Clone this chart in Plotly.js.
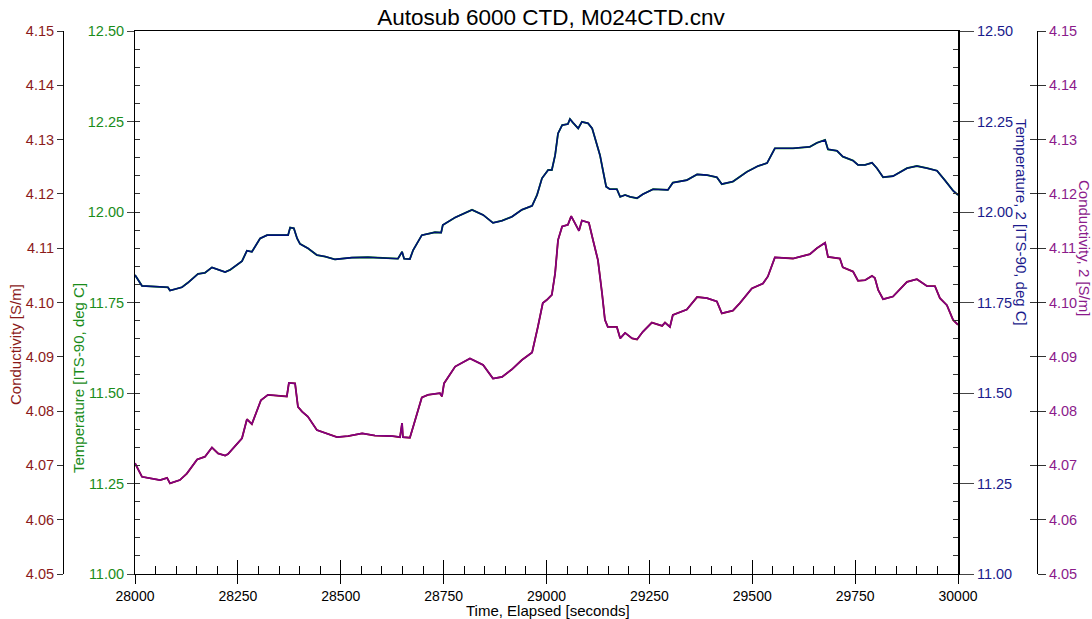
<!DOCTYPE html>
<html>
<head>
<meta charset="utf-8">
<script src="https://cdn.plot.ly/plotly-3.0.1.min.js"></script>
<style>html,body{margin:0;padding:0;background:#fff;}#chart{width:1092px;height:619px;}</style>
</head>
<body>
<div id="chart"></div>
<script>
// Time, Elapsed [seconds] for the temperature readings
const timeTemp = [28000, 28017, 28080, 28085, 28114, 28129, 28153, 28170, 28187, 28202,
  28219, 28231, 28260, 28272, 28284, 28304, 28321, 28340, 28372, 28377,
  28386, 28394, 28401, 28420, 28442, 28462, 28486, 28527, 28566, 28639,
  28649, 28654, 28668, 28676, 28697, 28729, 28744, 28748, 28778, 28819,
  28846, 28870, 28892, 28916, 28940, 28965, 28977, 28989, 29004, 29013,
  29021, 29028, 29038, 29052, 29057, 29064, 29077, 29086, 29101, 29111,
  29123, 29130, 29137, 29145, 29154, 29171, 29179, 29191, 29203, 29220,
  29234, 29259, 29295, 29307, 29341, 29366, 29390, 29414, 29426, 29453,
  29487, 29514, 29536, 29555, 29599, 29640, 29657, 29677, 29684, 29706,
  29720, 29745, 29757, 29774, 29791, 29803, 29818, 29842, 29876, 29900,
  29925, 29949, 29968, 29988, 30000];

// Temperature [ITS-90, deg C]
const temperature = [11.826, 11.796, 11.792, 11.783, 11.792, 11.805, 11.829, 11.832, 11.847, 11.840,
  11.834, 11.840, 11.864, 11.893, 11.890, 11.927, 11.936, 11.936, 11.936, 11.957,
  11.955, 11.927, 11.912, 11.900, 11.881, 11.877, 11.869, 11.874, 11.875, 11.871,
  11.890, 11.871, 11.870, 11.895, 11.936, 11.944, 11.943, 11.964, 11.985, 12.006,
  11.992, 11.970, 11.976, 11.987, 12.006, 12.017, 12.047, 12.093, 12.116, 12.116,
  12.157, 12.217, 12.240, 12.243, 12.257, 12.247, 12.231, 12.249, 12.245, 12.231,
  12.185, 12.157, 12.116, 12.070, 12.063, 12.063, 12.042, 12.047, 12.042, 12.038,
  12.049, 12.063, 12.061, 12.081, 12.088, 12.104, 12.102, 12.096, 12.077, 12.084,
  12.111, 12.127, 12.135, 12.176, 12.176, 12.180, 12.191, 12.199, 12.173, 12.169,
  12.153, 12.142, 12.130, 12.130, 12.136, 12.121, 12.096, 12.099, 12.121, 12.127,
  12.121, 12.114, 12.088, 12.059, 12.047];

// Temperature, 2 [ITS-90, deg C] (reads the same as the primary sensor)
const temperature2 = [11.826, 11.796, 11.792, 11.783, 11.792, 11.805, 11.829, 11.832, 11.847, 11.840,
  11.834, 11.840, 11.864, 11.893, 11.890, 11.927, 11.936, 11.936, 11.936, 11.957,
  11.955, 11.927, 11.912, 11.900, 11.881, 11.877, 11.869, 11.874, 11.875, 11.871,
  11.890, 11.871, 11.870, 11.895, 11.936, 11.944, 11.943, 11.964, 11.985, 12.006,
  11.992, 11.970, 11.976, 11.987, 12.006, 12.017, 12.047, 12.093, 12.116, 12.116,
  12.157, 12.217, 12.240, 12.243, 12.257, 12.247, 12.231, 12.249, 12.245, 12.231,
  12.185, 12.157, 12.116, 12.070, 12.063, 12.063, 12.042, 12.047, 12.042, 12.038,
  12.049, 12.063, 12.061, 12.081, 12.088, 12.104, 12.102, 12.096, 12.077, 12.084,
  12.111, 12.127, 12.135, 12.176, 12.176, 12.180, 12.191, 12.199, 12.173, 12.169,
  12.153, 12.142, 12.130, 12.130, 12.136, 12.121, 12.096, 12.099, 12.121, 12.127,
  12.121, 12.114, 12.088, 12.059, 12.047];

// Time, Elapsed [seconds] for the conductivity readings
const timeCond = [28000, 28017, 28061, 28078, 28085, 28109, 28126, 28151, 28170, 28187,
  28202, 28219, 28226, 28260, 28272, 28284, 28306, 28323, 28369, 28374,
  28389, 28396, 28406, 28420, 28442, 28467, 28491, 28518, 28552, 28583,
  28625, 28644, 28649, 28651, 28668, 28676, 28697, 28712, 28741, 28746,
  28751, 28778, 28814, 28846, 28870, 28892, 28916, 28940, 28965, 28979,
  28991, 29001, 29013, 29021, 29028, 29038, 29052, 29060, 29064, 29079,
  29086, 29103, 29113, 29125, 29135, 29142, 29149, 29171, 29179, 29191,
  29208, 29220, 29234, 29256, 29281, 29288, 29300, 29307, 29341, 29366,
  29390, 29414, 29426, 29453, 29470, 29499, 29526, 29538, 29555, 29599,
  29640, 29657, 29677, 29684, 29713, 29720, 29745, 29757, 29774, 29791,
  29798, 29806, 29818, 29842, 29876, 29900, 29925, 29944, 29956, 29973,
  29988, 30000];

// Conductivity [S/m]
const conductivity = [4.0704, 4.0679, 4.0673, 4.0677, 4.0667, 4.0673, 4.0685, 4.0711, 4.0716, 4.0733,
  4.0722, 4.0718, 4.0721, 4.0750, 4.0785, 4.0776, 4.0820, 4.0830, 4.0827, 4.0852,
  4.0851, 4.0808, 4.0799, 4.0790, 4.0765, 4.0759, 4.0752, 4.0754, 4.0759, 4.0755,
  4.0754, 4.0752, 4.0778, 4.0752, 4.0751, 4.0771, 4.0825, 4.0830, 4.0833, 4.0827,
  4.0851, 4.0882, 4.0897, 4.0885, 4.0860, 4.0863, 4.0877, 4.0894, 4.0908, 4.0955,
  4.0999, 4.1005, 4.1014, 4.1054, 4.1115, 4.1140, 4.1143, 4.1159, 4.1153, 4.1132,
  4.1151, 4.1147, 4.1115, 4.1078, 4.1017, 4.0968, 4.0955, 4.0955, 4.0934, 4.0944,
  4.0934, 4.0932, 4.0946, 4.0963, 4.0957, 4.0963, 4.0955, 4.0977, 4.0987, 4.1010,
  4.1008, 4.1002, 4.0980, 4.0985, 4.0999, 4.1026, 4.1035, 4.1048, 4.1083, 4.1081,
  4.1089, 4.1100, 4.1110, 4.1084, 4.1081, 4.1065, 4.1057, 4.1040, 4.1041, 4.1049,
  4.1045, 4.1023, 4.1006, 4.1011, 4.1038, 4.1043, 4.1030, 4.1030, 4.1008, 4.0995,
  4.0968, 4.0959];

// Conductivity, 2 [S/m] (reads the same as the primary sensor)
const conductivity2 = [4.0704, 4.0679, 4.0673, 4.0677, 4.0667, 4.0673, 4.0685, 4.0711, 4.0716, 4.0733,
  4.0722, 4.0718, 4.0721, 4.0750, 4.0785, 4.0776, 4.0820, 4.0830, 4.0827, 4.0852,
  4.0851, 4.0808, 4.0799, 4.0790, 4.0765, 4.0759, 4.0752, 4.0754, 4.0759, 4.0755,
  4.0754, 4.0752, 4.0778, 4.0752, 4.0751, 4.0771, 4.0825, 4.0830, 4.0833, 4.0827,
  4.0851, 4.0882, 4.0897, 4.0885, 4.0860, 4.0863, 4.0877, 4.0894, 4.0908, 4.0955,
  4.0999, 4.1005, 4.1014, 4.1054, 4.1115, 4.1140, 4.1143, 4.1159, 4.1153, 4.1132,
  4.1151, 4.1147, 4.1115, 4.1078, 4.1017, 4.0968, 4.0955, 4.0955, 4.0934, 4.0944,
  4.0934, 4.0932, 4.0946, 4.0963, 4.0957, 4.0963, 4.0955, 4.0977, 4.0987, 4.1010,
  4.1008, 4.1002, 4.0980, 4.0985, 4.0999, 4.1026, 4.1035, 4.1048, 4.1083, 4.1081,
  4.1089, 4.1100, 4.1110, 4.1084, 4.1081, 4.1065, 4.1057, 4.1040, 4.1041, 4.1049,
  4.1045, 4.1023, 4.1006, 4.1011, 4.1038, 4.1043, 4.1030, 4.1030, 4.1008, 4.0995,
  4.0968, 4.0959];

const titleText = 'Autosub 6000 CTD, M024CTD.cnv';
const xTitle = 'Time, Elapsed [seconds]';
const condTitle = 'Conductivity [S/m]';
const tempTitle = 'Temperature [ITS-90, deg C]';
const temp2Title = 'Temperature, 2 [ITS-90, deg C]';
const cond2Title = 'Conductivity, 2 [S/m]';

const FONT = 'Liberation Sans, Arial, sans-serif';
const C_COND = '#8b1a1a', C_TEMP = '#1a8c1a', C_TEMP2 = '#1a1a8c', C_COND2 = '#8b1a8b';

const traces = [
  {x: timeCond, y: conductivity, yaxis: 'y3', type: 'scatter', mode: 'lines',
   line: {color: '#8b0000', width: 1.8}, hoverinfo: 'skip'},
  {x: timeTemp, y: temperature, yaxis: 'y', type: 'scatter', mode: 'lines',
   line: {color: '#008000', width: 1.8}, hoverinfo: 'skip'},
  {x: timeTemp, y: temperature2, yaxis: 'y2', type: 'scatter', mode: 'lines',
   line: {color: '#00107a', width: 1.6}, hoverinfo: 'skip'},
  {x: timeCond, y: conductivity2, yaxis: 'y4', type: 'scatter', mode: 'lines',
   line: {color: '#820082', width: 1.6}, hoverinfo: 'skip'},
  // empty traces so that the tick-only overlay axes are drawn
  {x: [], y: [], xaxis: 'x2', yaxis: 'y5', type: 'scatter', mode: 'lines', hoverinfo: 'skip'},
  {x: [], y: [], xaxis: 'x', yaxis: 'y6', type: 'scatter', mode: 'lines', hoverinfo: 'skip'},
  {x: [], y: [], xaxis: 'x', yaxis: 'y7', type: 'scatter', mode: 'lines', hoverinfo: 'skip'}
];

const W = 1092, PL = 135, PR = 958, PT = 31, PB = 574;
const ph = PB - PT;
function px2x(p) { return p / W; }
function py2y(p) { return (PB - p) / ph; }

const tickFont = (c) => ({family: FONT, size: 14.5, color: c});

const layout = {
  width: 1092, height: 619,
  margin: {l: 0, r: 0, t: PT, b: 619 - PB, pad: 0},
  paper_bgcolor: '#fff', plot_bgcolor: '#fff',
  showlegend: false,
  font: {family: FONT},
  title: {text: titleText, font: {family: FONT, size: 22.5, color: '#000'},
          x: 551 / W, xanchor: 'center', y: 1 - 17 / 619, yanchor: 'middle', xref: 'container', yref: 'container'},
  xaxis: {domain: [px2x(PL), px2x(PR)], range: [28000, 30000], tick0: 28000, dtick: 250,
          ticks: 'outside', ticklen: 9, tickcolor: '#000', tickwidth: 1,
          showline: true, linecolor: '#000', linewidth: 1, mirror: true,
          showgrid: false, zeroline: false, tickformat: 'd', tickfont: {family: FONT, size: 14, color: '#000'}},
  xaxis2: {overlaying: 'x', anchor: 'y', side: 'bottom', range: [28000, 30000], tick0: 28000, dtick: 250,
           ticks: 'inside', ticklen: 14, tickcolor: '#000', showticklabels: false,
           showline: false, showgrid: false, zeroline: false,
           minor: {tick0: 28000, dtick: 50, ticks: 'inside', ticklen: 8, tickcolor: '#000', showgrid: false}},
  yaxis: {range: [11, 12.5], tick0: 11, dtick: 0.25, tickformat: '.2f', anchor: 'x', side: 'left',
          ticks: 'outside', ticklen: 7, tickcolor: '#444', showline: true, linecolor: '#000', linewidth: 1,
          showgrid: false, zeroline: false, tickfont: tickFont(C_TEMP)},
  yaxis2: {overlaying: 'y', anchor: 'x', side: 'right', range: [11, 12.5], tick0: 11, dtick: 0.25, tickformat: '.2f',
           ticks: 'outside', ticklen: 14, tickcolor: '#444', showline: true, linecolor: '#000', linewidth: 2,
           showgrid: false, zeroline: false, tickfont: tickFont(C_TEMP2)},
  yaxis3: {overlaying: 'y', anchor: 'free', position: px2x(63), side: 'left', range: [4.05, 4.15], tick0: 4.05, dtick: 0.01,
           tickformat: '.2f', ticks: 'outside', ticklen: 6, tickcolor: '#333', showline: true, linecolor: '#000', linewidth: 1,
           showgrid: false, zeroline: false, tickfont: tickFont(C_COND)},
  yaxis4: {overlaying: 'y', anchor: 'free', position: px2x(1037), side: 'right', range: [4.05, 4.15], tick0: 4.05, dtick: 0.01,
           tickformat: '.2f', ticks: 'outside', ticklen: 8, tickcolor: '#333', showline: true, linecolor: '#000', linewidth: 1,
           showgrid: false, zeroline: false, tickfont: tickFont(C_COND2)},
  yaxis5: {overlaying: 'y', anchor: 'x', side: 'left', range: [11, 12.5], tick0: 11, dtick: 0.05,
           ticks: 'inside', ticklen: 5, tickcolor: '#333', showticklabels: false, showline: false,
           showgrid: false, zeroline: false},
  yaxis6: {overlaying: 'y', anchor: 'x', side: 'right', range: [11, 12.5], tick0: 11, dtick: 0.05,
           ticks: 'inside', ticklen: 5, tickcolor: '#333', showticklabels: false, showline: false,
           showgrid: false, zeroline: false},
  yaxis7: {overlaying: 'y', anchor: 'free', position: px2x(1037), side: 'right', range: [4.05, 4.15], tick0: 4.05, dtick: 0.01,
           ticks: 'inside', ticklen: 7, tickcolor: '#333', showticklabels: false, showline: false,
           showgrid: false, zeroline: false},
  annotations: [
    {text: xTitle, xref: 'paper', yref: 'paper', x: 548 / W, y: py2y(610), xanchor: 'center', yanchor: 'middle',
     showarrow: false, font: {family: FONT, size: 15, color: '#000'}},
    {text: condTitle, xref: 'paper', yref: 'paper', x: 15 / W, y: py2y(345), xanchor: 'center', yanchor: 'middle',
     textangle: -90, showarrow: false, font: {family: FONT, size: 15, color: C_COND}},
    {text: tempTitle, xref: 'paper', yref: 'paper', x: 78 / W, y: py2y(378), xanchor: 'center', yanchor: 'middle',
     textangle: -90, showarrow: false, font: {family: FONT, size: 15, color: C_TEMP}},
    {text: temp2Title, xref: 'paper', yref: 'paper', x: 1022 / W, y: py2y(222), xanchor: 'center', yanchor: 'middle',
     textangle: 90, showarrow: false, font: {family: FONT, size: 15, color: C_TEMP2}},
    {text: cond2Title, xref: 'paper', yref: 'paper', x: 1085 / W, y: py2y(248), xanchor: 'center', yanchor: 'middle',
     textangle: 90, showarrow: false, font: {family: FONT, size: 15, color: C_COND2}}
  ]
};

Plotly.newPlot('chart', traces, layout, {staticPlot: true, displayModeBar: false});
</script>
</body>
</html>
